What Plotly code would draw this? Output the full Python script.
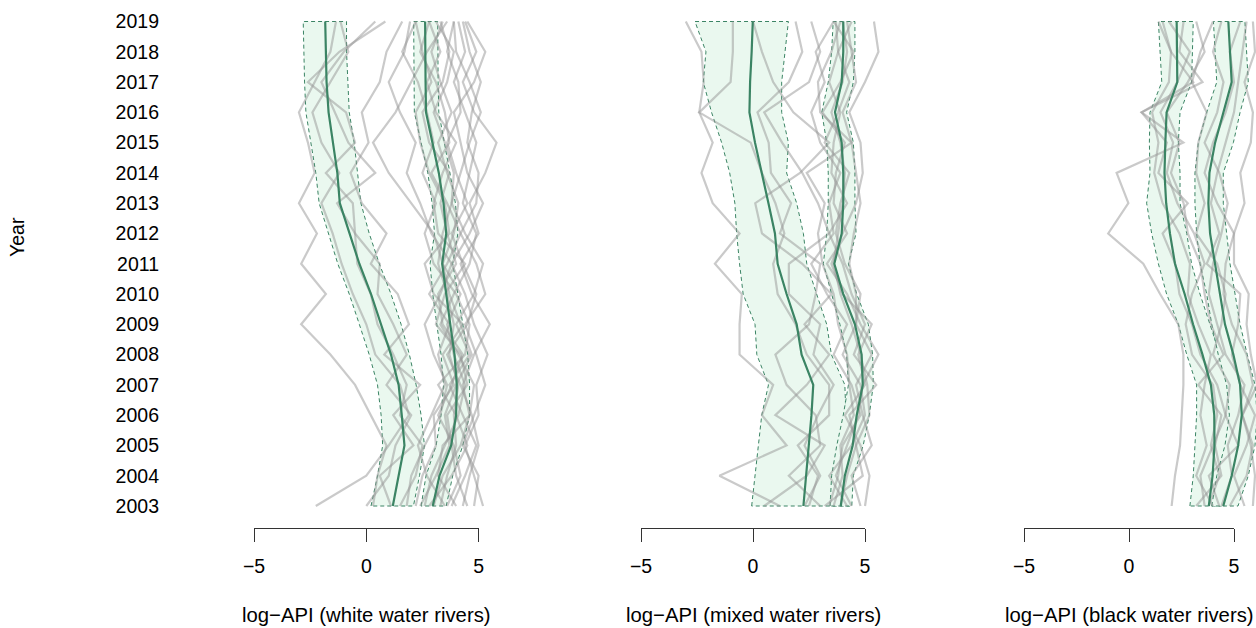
import plotly.graph_objects as go

years = list(range(2003, 2020))

# ---------------- white water rivers ----------------
white_lowgrp_mean = [1.18, 1.44, 1.70, 1.58, 1.44, 1.10, 0.66, 0.21, -0.31, -0.76, -1.18, -1.29, -1.47, -1.68, -1.77, -1.80, -1.83]
white_lowgrp_lower = [0.21, 0.50, 0.73, 0.66, 0.50, 0.13, -0.31, -0.76, -1.27, -1.70, -2.10, -2.25, -2.47, -2.69, -2.75, -2.78, -2.81]
white_lowgrp_upper = [2.10, 2.37, 2.59, 2.44, 2.22, 1.92, 1.55, 1.10, 0.58, 0.13, -0.24, -0.39, -0.54, -0.76, -0.82, -0.88, -0.88]
white_highgrp_mean = [2.96, 3.26, 3.78, 4.00, 4.03, 3.93, 3.74, 3.56, 3.38, 3.56, 3.44, 3.23, 2.93, 2.66, 2.64, 2.62, 2.62]
white_highgrp_lower = [2.44, 2.66, 3.11, 3.33, 3.44, 3.33, 3.14, 2.96, 2.84, 3.04, 2.93, 2.74, 2.44, 2.14, 2.13, 2.11, 2.11]
white_highgrp_upper = [3.56, 3.85, 4.30, 4.60, 4.60, 4.52, 4.30, 4.08, 3.85, 4.08, 3.97, 3.74, 3.48, 3.23, 3.20, 3.18, 3.18]
white_rivers = [
    [0.3, 0.5, 0.9, 0.2, -0.5, -1.6, -2.9, -1.8, -2.9, -2.2, -3.0, -2.3, -2.6, -3.0, -2.3, -1.6, -1.35],
    [-2.25, 0.0, 1.0, 1.9, 1.5, 0.4, 0.0, -0.6, -1.1, -1.5, -2.0, -1.2, -2.0, -2.4, -1.6, -0.8, -1.15],
    [1.5, 2.2, 2.5, 1.5, 1.8, 1.2, 0.5, 0.2, -0.4, -0.5, -1.3, 0.4, -0.8, -1.4, -2.0, -1.0, 0.4],
    [0.0, 1.0, 1.3, 2.0, 0.9, 1.8, 1.2, 0.5, 0.6, -0.5, -0.6, -1.8, -0.5, -0.9, -2.6, -1.2, 0.85],
    [1.1, 0.6, 2.1, 1.2, 2.4, 0.8, 1.9, 1.4, 0.2, 0.9, -0.2, -0.7, 0.1, -0.2, 0.6, 0.9, 1.6],
    [3.0, 3.4, 4.2, 4.6, 4.3, 4.8, 5.5, 4.7, 4.2, 5.0, 4.6, 5.3, 5.8, 4.8, 4.3, 4.9, 4.4],
    [2.6, 2.9, 3.5, 4.1, 4.4, 3.9, 3.6, 4.2, 3.4, 3.9, 4.1, 3.6, 3.2, 3.8, 3.3, 2.9, 3.4],
    [4.5, 4.0, 3.8, 3.6, 4.5, 4.2, 3.1, 3.5, 4.4, 3.2, 3.0, 3.4, 4.0, 3.1, 2.7, 3.3, 2.8],
    [2.2, 2.5, 3.1, 3.0, 3.9, 3.4, 4.3, 3.0, 2.6, 3.7, 3.5, 2.8, 2.4, 2.2, 2.9, 2.5, 2.2],
    [3.8, 4.4, 4.9, 4.3, 3.7, 4.6, 4.0, 4.8, 5.2, 4.4, 3.8, 4.2, 4.6, 5.1, 4.6, 4.0, 3.9],
    [5.2, 4.8, 4.4, 5.0, 4.9, 5.4, 4.8, 4.4, 3.8, 4.6, 5.2, 4.5, 4.2, 3.9, 4.8, 5.3, 4.5],
    [1.8, 2.0, 2.6, 3.3, 3.6, 3.0, 2.6, 3.3, 3.8, 2.9, 2.4, 1.8, 2.2, 1.5, 1.0, 1.7, 1.95],
    [3.3, 3.6, 4.0, 3.9, 4.1, 3.7, 3.9, 3.6, 3.2, 3.4, 3.8, 3.9, 3.5, 3.0, 3.6, 3.9, 3.1],
    [4.0, 3.2, 3.4, 4.6, 4.8, 4.1, 3.3, 3.9, 4.6, 4.9, 4.3, 4.6, 4.9, 4.4, 3.9, 4.4, 4.1],
    [2.8, 3.8, 4.5, 4.0, 3.2, 4.4, 4.6, 4.0, 3.0, 2.6, 3.1, 2.5, 3.0, 2.7, 2.3, 1.6, 2.2],
    [4.8, 5.0, 4.3, 4.8, 5.3, 4.9, 4.4, 5.3, 4.9, 4.2, 4.9, 5.0, 4.5, 4.7, 5.1, 4.6, 4.3],
    [3.5, 2.7, 2.3, 2.9, 3.5, 3.2, 3.7, 2.8, 3.6, 4.2, 3.6, 2.9, 3.7, 3.5, 3.1, 2.4, 2.8],
    [2.4, 3.1, 3.7, 3.5, 4.0, 4.7, 4.2, 3.7, 3.4, 3.0, 2.0, 1.0, 0.3, 1.3, 2.0, 2.7, 3.6],
    [4.3, 4.6, 5.0, 4.7, 4.2, 3.6, 4.5, 4.9, 4.3, 3.8, 4.5, 4.0, 3.6, 4.2, 4.1, 3.6, 3.9],
    [3.6, 4.2, 3.9, 3.2, 3.8, 4.3, 3.4, 3.2, 4.0, 3.6, 3.3, 3.7, 2.8, 2.5, 3.4, 3.7, 3.3],
]

# ---------------- mixed water rivers ----------------
mixed_lowgrp_mean = [2.25, 2.37, 2.47, 2.61, 2.69, 2.17, 1.95, 1.50, 1.10, 0.98, 0.69, 0.39, 0.09, -0.16, -0.13, -0.06, -0.01]
mixed_lowgrp_lower = [-0.06, 0.09, 0.24, 0.39, 0.69, 0.17, 0.09, -0.44, -0.60, -0.73, -0.81, -1.04, -1.40, -1.85, -2.22, -2.10, -2.59]
mixed_lowgrp_upper = [4.33, 4.24, 4.00, 4.15, 4.10, 3.50, 3.29, 2.84, 2.40, 2.25, 1.95, 1.50, 1.58, 1.28, 1.28, 1.43, 1.58]
mixed_highgrp_mean = [3.92, 4.10, 4.45, 4.63, 4.90, 4.85, 4.55, 4.03, 3.63, 3.96, 4.03, 4.03, 3.96, 3.66, 3.96, 4.03, 4.03]
mixed_highgrp_lower = [3.44, 3.51, 3.74, 4.03, 4.26, 4.18, 3.88, 3.51, 3.14, 3.29, 3.36, 3.36, 3.29, 3.07, 3.36, 3.51, 3.58]
mixed_highgrp_upper = [4.41, 4.48, 4.92, 5.19, 5.37, 5.34, 5.15, 4.63, 4.26, 4.60, 4.55, 4.55, 4.48, 4.18, 4.48, 4.55, 4.55]
mixed_rivers = [
    [1.2, -1.5, 1.5, 0.4, 0.9, -0.6, -0.6, -0.5, -1.7, -0.6, -1.8, -2.3, -1.8, -2.4, -2.2, -2.3, -3.0],
    [2.5, 2.9, 2.0, 3.4, 3.4, 2.4, 1.9, 1.1, 0.9, 1.4, 1.0, 0.4, -0.1, -2.4, -1.0, -0.9, -0.9],
    [3.0, 1.6, 3.0, 2.8, 1.5, 1.0, 2.5, 2.8, 3.0, 1.2, 1.7, 0.8, 0.7, 0.2, 1.6, 2.2, 1.9],
    [0.5, 2.4, 3.2, 1.0, 2.4, 3.4, 2.3, 3.5, 2.2, 0.4, 0.1, 2.1, 3.4, 1.8, 0.9, 0.4, 0.0],
    [2.3, 3.0, 2.3, 2.9, 3.6, 2.7, 3.0, 1.6, 1.6, 3.4, 2.9, 2.2, 1.3, 0.5, 2.5, 3.0, 2.6],
    [3.9, 4.2, 4.6, 5.2, 5.1, 4.8, 4.4, 3.9, 3.6, 3.8, 4.0, 4.1, 3.9, 3.5, 4.0, 4.2, 4.0],
    [4.4, 3.7, 4.2, 4.7, 4.9, 5.6, 4.8, 4.2, 3.3, 4.2, 3.6, 3.7, 4.1, 3.1, 3.9, 4.5, 3.6],
    [3.2, 4.9, 4.6, 4.3, 5.5, 4.5, 5.0, 4.4, 4.0, 3.4, 4.2, 3.5, 3.6, 3.9, 3.4, 3.8, 4.4],
    [4.8, 4.4, 5.3, 4.9, 4.6, 5.3, 4.6, 4.6, 4.3, 4.5, 4.8, 4.6, 4.4, 4.0, 4.6, 4.4, 4.2],
    [3.6, 4.0, 3.9, 4.5, 4.3, 4.2, 3.8, 3.6, 3.1, 2.9, 3.2, 2.4, 4.4, 3.0, 2.9, 3.5, 3.9],
    [4.2, 3.4, 4.4, 5.0, 4.8, 4.0, 4.6, 4.8, 4.1, 3.7, 3.9, 4.3, 3.2, 3.8, 4.3, 3.8, 3.7],
    [5.0, 5.2, 4.8, 4.1, 5.0, 4.7, 5.3, 4.0, 3.5, 4.0, 4.6, 4.9, 4.8, 4.3, 5.0, 5.6, 5.4],
    [3.4, 3.8, 4.0, 4.8, 4.4, 3.6, 4.2, 3.3, 2.6, 3.6, 3.4, 3.9, 3.0, 2.6, 3.2, 2.8, 3.6],
]

# ---------------- black water rivers ----------------
black_lowgrp_mean = [3.80, 3.98, 4.07, 4.06, 3.90, 3.50, 3.05, 2.65, 2.19, 1.95, 1.77, 1.69, 1.73, 1.79, 2.30, 2.29, 2.27]
black_lowgrp_lower = [2.90, 3.06, 3.14, 3.22, 3.22, 2.75, 2.35, 1.79, 1.40, 1.08, 0.84, 1.00, 0.97, 1.00, 1.56, 1.48, 1.40]
black_lowgrp_upper = [4.41, 4.57, 4.73, 4.81, 4.73, 4.33, 3.86, 3.38, 2.98, 2.75, 2.43, 2.43, 2.35, 2.43, 2.98, 3.03, 3.06]
black_highgrp_mean = [4.49, 4.89, 5.20, 5.37, 5.29, 4.97, 4.57, 4.33, 4.10, 3.86, 3.78, 3.83, 4.10, 4.49, 4.89, 4.81, 4.73]
black_highgrp_lower = [3.94, 4.18, 4.57, 4.78, 4.65, 4.25, 3.94, 3.70, 3.38, 3.22, 3.14, 3.14, 3.30, 3.70, 4.18, 4.10, 4.02]
black_highgrp_upper = [5.19, 5.68, 6.00, 6.10, 6.00, 5.63, 5.29, 5.05, 4.81, 4.65, 4.49, 4.49, 4.97, 5.29, 5.68, 5.60, 5.52]
black_rivers = [
    [2.03, 2.19, 2.43, 2.51, 2.59, 2.59, 2.35, 1.48, 0.68, -0.99, -0.03, -0.59, 2.59, 0.60, 3.06, 2.0, 1.4],
    [3.6, 3.4, 4.0, 4.6, 4.2, 3.4, 3.0, 2.4, 2.2, 1.6, 2.8, 1.4, 1.8, 0.6, 3.5, 2.4, 2.6],
    [4.0, 3.2, 3.7, 3.4, 3.6, 3.9, 3.3, 2.8, 2.9, 2.4, 1.6, 1.2, 1.4, 1.1, 1.9, 2.0, 1.6],
    [3.2, 4.4, 4.1, 4.4, 3.3, 4.5, 3.9, 3.6, 3.4, 2.8, 2.6, 2.0, 2.4, 1.8, 2.8, 3.6, 3.2],
    [4.3, 3.8, 5.2, 4.6, 4.8, 4.0, 4.4, 4.6, 4.2, 3.2, 3.6, 3.2, 3.3, 3.7, 3.0, 3.4, 4.0],
    [5.5, 5.0, 5.6, 6.0, 5.3, 4.9, 5.2, 5.3, 3.7, 4.3, 3.9, 4.2, 4.6, 5.0, 5.2, 5.4, 5.6],
    [4.8, 5.6, 5.9, 5.4, 5.9, 5.6, 4.9, 4.5, 4.6, 5.0, 4.2, 3.6, 4.0, 4.6, 5.0, 4.8, 5.3],
    [4.4, 4.9, 4.7, 5.2, 5.5, 4.6, 4.2, 3.8, 4.0, 4.4, 4.7, 4.3, 3.6, 4.2, 4.5, 4.0, 4.4],
    [3.8, 4.3, 3.9, 4.2, 4.0, 3.0, 2.7, 3.0, 3.6, 3.1, 2.3, 1.8, 2.1, 1.5, 2.3, 2.9, 1.9],
    [5.9, 6.0, 5.8, 5.4, 6.1, 5.8, 5.6, 5.7, 5.0, 5.0, 5.5, 5.3, 5.8, 5.9, 5.5, 6.0, 5.9],
]

panel_titles = ["log\u2212API (white water rivers)", "log\u2212API (mixed water rivers)", "log\u2212API (black water rivers)"]
x_ticks = [-5, 0, 5]

# ---------------- styling / layout constants (pixels) ----------------
W, H = 1256, 628
FONT = "Liberation Sans, Arial, Helvetica, sans-serif"
FS = 19.5
FS_TITLE = 20.3
GREEN = "#3b8464"
BAND = "#eaf8ef"
GRAY = "rgba(150,150,150,0.5)"
panels_geom = [
    dict(zero=366.3, s=22.45, lo=-5.6, hi=6.0),
    dict(zero=753.0, s=22.4, lo=-3.6, hi=6.0),
    dict(zero=1129.0, s=21.0, lo=-1.6, hi=(1256 - 1129.0) / 21.0),
]
plot_top, plot_bot = 10, 528
y_top_px, y_2003_px = 21.5, 506
ppy = (y_2003_px - y_top_px) / 16.0
y_range = [2003 - (plot_bot - y_2003_px) / ppy, 2019 + (y_top_px - plot_top) / ppy]

panels = [
    (white_rivers, [(white_lowgrp_mean, white_lowgrp_lower, white_lowgrp_upper),
                    (white_highgrp_mean, white_highgrp_lower, white_highgrp_upper)]),
    (mixed_rivers, [(mixed_lowgrp_mean, mixed_lowgrp_lower, mixed_lowgrp_upper),
                    (mixed_highgrp_mean, mixed_highgrp_lower, mixed_highgrp_upper)]),
    (black_rivers, [(black_lowgrp_mean, black_lowgrp_lower, black_lowgrp_upper),
                    (black_highgrp_mean, black_highgrp_lower, black_highgrp_upper)]),
]

fig = go.Figure()
layout = dict(
    width=W, height=H, margin=dict(l=0, r=0, t=0, b=0, pad=0),
    paper_bgcolor="white", plot_bgcolor="rgba(0,0,0,0)",
    showlegend=False, font=dict(family=FONT, size=FS, color="black"),
    yaxis=dict(range=y_range, domain=[(H - plot_bot) / H, (H - plot_top) / H],
               anchor="free", position=159.0 / W, tickmode="array", tickvals=years,
               ticktext=[str(y) for y in years], ticks="", showline=False, automargin=False,
               showgrid=False, zeroline=False, tickfont=dict(size=FS, family=FONT, color="black")),
)

annotations = []
for i, (rivers, groups) in enumerate(panels):
    g = panels_geom[i]
    xa = "x" if i == 0 else f"x{i+1}"
    xv = f"x{i+4}"
    d0 = (g["zero"] + g["lo"] * g["s"]) / W
    d1 = min(1.0, (g["zero"] + g["hi"] * g["s"]) / W)
    layout["xaxis" if i == 0 else f"xaxis{i+1}"] = dict(
        range=[g["lo"], g["hi"]], domain=[d0, d1], anchor="y", visible=False,
        showgrid=False, zeroline=False, automargin=False)
    layout[f"xaxis{i+4}"] = dict(
        range=[-5, 5], domain=[(g["zero"] - 5 * g["s"]) / W, (g["zero"] + 5 * g["s"]) / W],
        anchor="y", showline=True, linecolor="#333", linewidth=1, automargin=False,
        ticks="outside", ticklen=13, tickwidth=1, tickcolor="#333",
        tickmode="array", tickvals=x_ticks, showgrid=False, zeroline=False,
        ticklabelstandoff=8, tickfont=dict(size=FS, family=FONT, color="black"))
    fig.add_trace(go.Scatter(x=[], y=[], xaxis=xv, yaxis="y", hoverinfo="skip"))

    for mean, lo, hi in groups:
        fig.add_trace(go.Scatter(
            x=lo + hi[::-1] + [lo[0]], y=years + years[::-1] + [years[0]],
            xaxis=xa, yaxis="y", mode="lines", fill="toself", fillcolor=BAND,
            line=dict(color=GREEN, width=1, dash="4px,3px"), hoverinfo="skip"))
    for r in rivers:
        fig.add_trace(go.Scatter(x=r, y=years, xaxis=xa, yaxis="y", mode="lines",
                                 line=dict(color=GRAY, width=2.2), hoverinfo="skip"))
    for mean, lo, hi in groups:
        fig.add_trace(go.Scatter(x=mean, y=years, xaxis=xa, yaxis="y", mode="lines",
                                 line=dict(color=GREEN, width=2.2), hoverinfo="skip"))

    annotations.append(dict(text=panel_titles[i], xref=f"{xv} domain", x=0.5, xanchor="center",
                            yref="paper", y=(H - 615) / H, yanchor="middle", showarrow=False,
                            font=dict(size=FS_TITLE, family=FONT, color="black")))

annotations.append(dict(text="Year", xref="paper", x=17 / W, xanchor="center",
                        yref="paper", y=(H - 237) / H, yanchor="middle", textangle=-90,
                        showarrow=False, font=dict(size=FS, family=FONT, color="black")))
layout["annotations"] = annotations
fig.update_layout(**layout)
fig.write_html("out.html", config={"displayModeBar": False},
               post_script="document.body.style.margin='0';")
